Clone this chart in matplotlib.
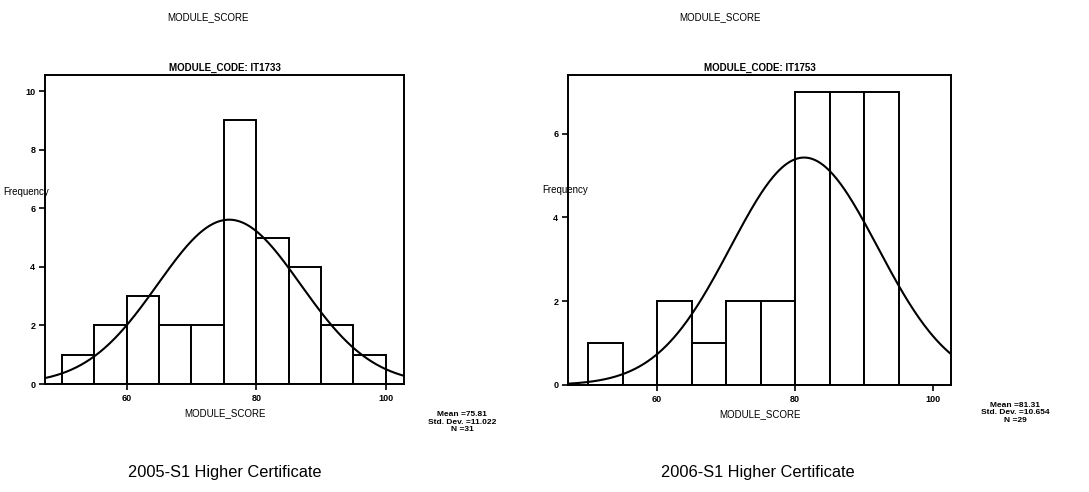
import numpy as np
import matplotlib.pyplot as plt

plt.rcParams['font.family'] = ['Liberation Sans', 'DejaVu Sans']

# histogram data
bin_left = [50, 55, 60, 65, 70, 75, 80, 85, 90, 95]
counts_2005 = [1, 2, 3, 2, 2, 9, 5, 4, 2, 1]
counts_2006 = [1, 0, 2, 1, 2, 2, 7, 7, 7, 0]
bin_width = 5

stats_2005 = {"mean": 75.81, "sd": 11.022, "n": 31}
stats_2006 = {"mean": 81.31, "sd": 10.654, "n": 29}

codes = ["IT1733", "IT1753"]
captions = ["2005-S1 Higher Certificate", "2006-S1 Higher Certificate"]
stat_labels = ["Mean =75.81\nStd. Dev. =11.022\nN =31",
               "Mean =81.31\nStd. Dev. =10.654\nN =29"]

W, H = 1089, 492
fig = plt.figure(figsize=(W / 100, H / 100), dpi=100)


def px_axes(x0, y0, x1, y1):
    return fig.add_axes([x0 / W, 1 - y1 / H, (x1 - x0) / W, (y1 - y0) / H])


def draw_panel(ax, counts, st, code, ymax, yticks, xlim):
    ax.bar(bin_left, counts, width=bin_width, align='edge',
           facecolor='white', edgecolor='black', linewidth=1.4)
    xs = np.linspace(xlim[0], xlim[1], 300)
    dens = st["n"] * bin_width / (st["sd"] * np.sqrt(2 * np.pi)) * \
        np.exp(-0.5 * ((xs - st["mean"]) / st["sd"]) ** 2)
    ax.plot(xs, dens, color='black', linewidth=1.5)
    ax.set_xlim(*xlim)
    ax.set_ylim(0, ymax)
    ax.set_xticks([60, 80, 100])
    ax.set_yticks(yticks)
    ax.tick_params(direction='out', length=4, width=1.2, labelsize=6.5, pad=3)
    for lab in ax.get_xticklabels() + ax.get_yticklabels():
        lab.set_fontweight('bold')
    for s in ax.spines.values():
        s.set_linewidth(1.4)
    ax.set_xlabel("MODULE_SCORE", fontsize=7, labelpad=4)
    ax.set_title("MODULE_CODE: " + code, fontsize=7, fontweight='bold', pad=3)


ax1 = px_axes(45, 75, 404, 384)
draw_panel(ax1, counts_2005, stats_2005, codes[0], 10.55, [0, 2, 4, 6, 8, 10], (47.4, 102.8))
ax2 = px_axes(568, 75, 951, 385)
draw_panel(ax2, counts_2006, stats_2006, codes[1], 7.4, [0, 2, 4, 6], (47.1, 102.6))

# y labels sit horizontally over the axis line
fig.text(3 / W, 1 - 192 / H, "Frequency", fontsize=7, va='center', ha='left')
fig.text(542 / W, 1 - 190 / H, "Frequency", fontsize=7, va='center', ha='left')

fig.text(208 / W, 1 - 17 / H, "MODULE_SCORE", fontsize=7, ha='center', va='center')
fig.text(720 / W, 1 - 17 / H, "MODULE_SCORE", fontsize=7, ha='center', va='center')

fig.text(462 / W, 1 - 422 / H, stat_labels[0], fontsize=6, ha='center', va='center',
         linespacing=1.15, fontweight='bold')
fig.text(1015 / W, 1 - 413 / H, stat_labels[1], fontsize=6, ha='center', va='center',
         linespacing=1.15, fontweight='bold')

fig.text(225 / W, 1 - 472 / H, captions[0], fontsize=11.8, ha='center', va='center')
fig.text(758 / W, 1 - 472 / H, captions[1], fontsize=11.8, ha='center', va='center')

fig.savefig("out.png", dpi=100)
